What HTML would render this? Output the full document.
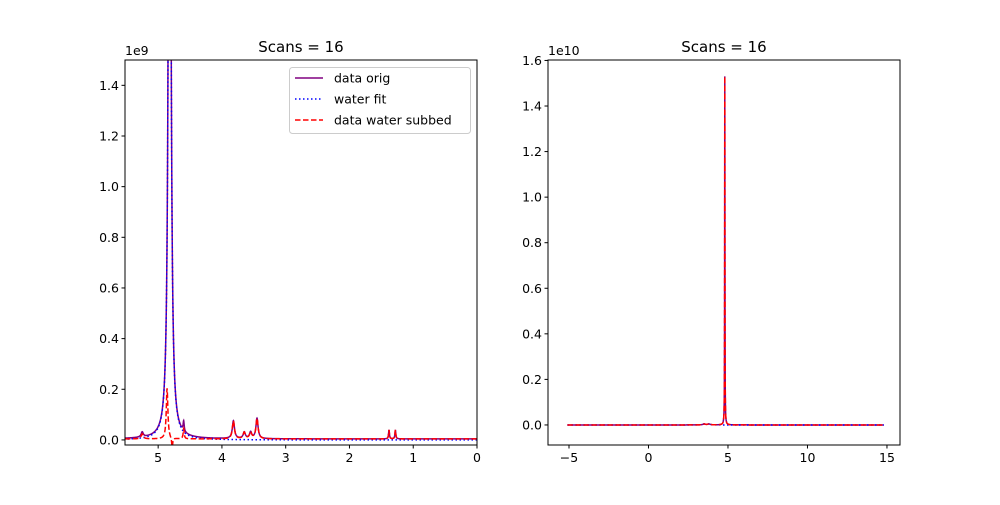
<!DOCTYPE html>
<html><head><meta charset="utf-8"><style>
body{margin:0;background:#fff;font-family:"Liberation Sans","DejaVu Sans",sans-serif}
svg text{font-family:"DejaVu Sans","Liberation Sans",sans-serif}
</style></head><body>
<svg id="c" width="1000" height="500"></svg>
<script>
// ---- data (left panel, units 1e9) ----
const waterPeak = [4.82, 4.0, 0.02];           // ppm, height, hwhm
const metabPpm = [5.25, 4.6, 3.82, 3.65, 3.55, 3.45, 1.38, 1.28];
const metabHeight = [0.02, 0.04, 0.07, 0.025, 0.025, 0.08, 0.035, 0.035];
const metabWidth = [0.02, 0.01, 0.02, 0.02, 0.02, 0.02, 0.008, 0.008];
const residPpm = [4.86, 4.78];
const residHeight = [0.2, -0.04];
const residWidth = [0.015, 0.01];
const leftYTicks = [0, 0.2, 0.4, 0.6, 0.8, 1.0, 1.2, 1.4];
const leftXTicks = [5, 4, 3, 2, 1, 0];
// ---- data (right panel, units 1e10) ----
const rightSpike = [4.8, 1.53, 0.01];
const rightBumpPpm = [3.5, 3.8];
const rightBumpHeight = [0.004, 0.004];
const rightYTicks = [0, 0.2, 0.4, 0.6, 0.8, 1.0, 1.2, 1.4, 1.6];
const rightXTicks = [-5, 0, 5, 10, 15];

const NS = "http://www.w3.org/2000/svg";
const svg = document.getElementById('c');
function mk(tag, attrs, parent){const e=document.createElementNS(NS,tag);for(const k in attrs)e.setAttribute(k,attrs[k]);(parent||svg).appendChild(e);return e;}
function lor(x,c,h,w){return h*w*w/((x-c)*(x-c)+w*w);}
function fmt(v){return v.toFixed(1);}

function panel(o){
  const g=mk('g',{});
  
  
  const sx=v=>o.x0+(v-o.xmin)/(o.xmax-o.xmin)*(o.x1-o.x0);
  const sy=v=>o.y1-(v-o.ymin)/(o.ymax-o.ymin)*(o.y1-o.y0);
  const clip=mk('clipPath',{id:o.name+'-clip'},g);
  mk('rect',{x:o.x0,y:o.y0,width:o.x1-o.x0,height:o.y1-o.y0},clip);
  const lines=mk('g',{'clip-path':'url(#'+o.name+'-clip)'},g);
  o.series.forEach(s=>{
    let d='';
    for(let x=s.from;x<=s.to+1e-9;x+=s.step){d+=(d?'L':'M')+sx(x).toFixed(2)+','+sy(s.f(x)).toFixed(2);}
    const p=mk('path',{d:d,fill:'none',stroke:s.color,'stroke-width':1.5,'stroke-dasharray':s.dash||'none'},lines);
    
    
  });
  const fr=mk('rect',{x:o.x0,y:o.y0,width:o.x1-o.x0,height:o.y1-o.y0,fill:'none',stroke:'#000','stroke-width':1},g);
  
  
  o.xt.forEach(v=>{const X=sx(v);mk('line',{x1:X,x2:X,y1:o.y1,y2:o.y1+3.5,stroke:'#000'},g);
    const t=mk('text',{x:X,y:o.y1+17,'text-anchor':'middle','font-size':12.5},g);t.textContent=String(v).replace('-','\u2212');
    });
  o.yt.forEach(v=>{const Y=sy(v);mk('line',{x1:o.x0-3.5,x2:o.x0,y1:Y,y2:Y,stroke:'#000'},g);
    const t=mk('text',{x:o.x0-6,y:Y+4.5,'text-anchor':'end','font-size':12.5},g);t.textContent=fmt(v);
    });
  const ti=mk('text',{x:(o.x0+o.x1)/2,y:o.y0-8,'text-anchor':'middle','font-size':15},g);ti.textContent='Scans = 16';
  
  const ex=mk('text',{x:o.x0,y:o.y0-5,'font-size':12.5},g);ex.textContent=o.exp;
  
}
const metab=x=>{let s=0.004;for(let i=0;i<metabPpm.length;i++)s+=lor(x,metabPpm[i],metabHeight[i],metabWidth[i]);return s;};
const water=x=>lor(x,waterPeak[0],waterPeak[1],waterPeak[2]);
const resid=x=>{let s=0;for(let i=0;i<residPpm.length;i++)s+=lor(x,residPpm[i],residHeight[i],residWidth[i]);return s;};
panel({name:'left-panel',x0:125,x1:477,y0:60,y1:445,xmin:5.52,xmax:0,ymin:-0.02,ymax:1.5,xt:leftXTicks,yt:leftYTicks,exp:'1e9',
  series:[
   {name:'data-orig-line',color:'purple',from:0,to:5.52,step:0.002,f:x=>metab(x)+water(x)},
   {name:'water-fit-line',color:'blue',dash:'1.5,2.5',from:0,to:5.52,step:0.002,f:x=>water(x)},
   {name:'data-water-subbed-line',color:'red',dash:'5.5,2.5',from:0,to:5.52,step:0.002,f:x=>metab(x)+resid(x)}
  ]});
const rightBumps=x=>{let s=0;for(let i=0;i<rightBumpPpm.length;i++)s+=lor(x,rightBumpPpm[i],rightBumpHeight[i],0.1);return s;};
panel({name:'right-panel',x0:548,x1:900,y0:60,y1:445,xmin:-6.32,xmax:15.82,ymin:-0.088,ymax:1.602,xt:rightXTicks,yt:rightYTicks,exp:'1e10',
  series:[
   {name:'data-orig-line',color:'purple',from:-5.1,to:14.8,step:0.005,f:x=>rightBumps(x)+lor(x,rightSpike[0],rightSpike[1],rightSpike[2])},
   {name:'water-fit-line',color:'blue',dash:'1.5,2.5',from:-5.1,to:14.8,step:0.005,f:x=>rightBumps(x)},
   {name:'data-water-subbed-line',color:'red',dash:'5.5,2.5',from:-5.1,to:14.8,step:0.005,f:x=>rightBumps(x)+lor(x,rightSpike[0],rightSpike[1],rightSpike[2])}
  ]});
// legend
const lg=mk('g',{});


mk('rect',{x:289.5,y:67.5,width:181,height:66,rx:3,fill:'#fff','fill-opacity':0.8,stroke:'#ccc'},lg);
[['data orig','purple','none',78],['water fit','blue','1.5,2.5',99],['data water subbed','red','5.5,2.5',120]].forEach(e=>{
  const l=mk('line',{x1:295,x2:323,y1:e[3],y2:e[3],stroke:e[1],'stroke-width':1.5,'stroke-dasharray':e[2]},lg);
  
  const t=mk('text',{x:334,y:e[3]+4.5,'font-size':12.5},lg);t.textContent=e[0];
  
});
</script>
</body></html>
